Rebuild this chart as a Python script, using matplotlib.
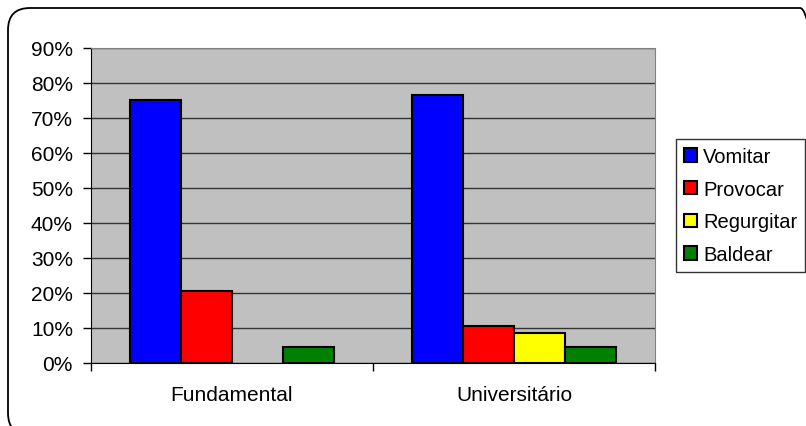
import numpy as np
import matplotlib.pyplot as plt
from matplotlib.patches import FancyBboxPatch, Patch
from matplotlib.transforms import IdentityTransform

plt.rcParams['font.family'] = ['Liberation Sans', 'DejaVu Sans']

# Data (percent)
categories = ["Fundamental", "Universitário"]
series_names = ["Vomitar", "Provocar", "Regurgitar", "Baldear"]
vomitar = [75.0, 76.5]
provocar = [20.5, 10.5]
regurgitar = [0.0, 8.5]
baldear = [4.5, 4.5]
series_values = [vomitar, provocar, regurgitar, baldear]
colors = ["#0000ff", "#ff0000", "#ffff00", "#008000"]
y_ticks = [0, 10, 20, 30, 40, 50, 60, 70, 80, 90]

fig = plt.figure(figsize=(8.06, 4.27), dpi=100)
ax = fig.add_axes([91 / 806, 63 / 427, 564 / 806, 315.5 / 427])

x = np.arange(len(categories))
bar_w = 0.181
offsets = (np.arange(len(series_names)) - 1.5) * bar_w
for vals, name, col, off in zip(series_values, series_names, colors, offsets):
    # zero values are not drawn at all in the original
    h = np.where(np.array(vals) > 0, vals, np.nan)
    ax.bar(x + off, h, width=bar_w, color=col, edgecolor="black",
           linewidth=1.5, label=name, zorder=3)

ax.set_facecolor("#c0c0c0")
ax.set_xlim(-0.5, 1.5)
ax.set_ylim(0, 90)
ax.set_yticks(y_ticks)
ax.set_yticklabels([f"{v}%" for v in y_ticks])
ax.yaxis.grid(True, color="#333333", linewidth=1.0, zorder=1)
ax.set_axisbelow(True)

ax.set_xticks(x)
ax.set_xticklabels(categories)
ax.set_xticks([-0.5, 0.5, 1.5], minor=True)
ax.tick_params(axis="x", which="major", length=0, pad=16, labelsize=15)
ax.tick_params(axis="x", which="minor", length=6, width=1, direction="out")
ax.tick_params(axis="y", length=6, width=1, direction="out", pad=7, labelsize=15)

ax.spines["left"].set_color("black")
ax.spines["bottom"].set_color("black")
ax.spines["top"].set_color("#808080")
ax.spines["right"].set_color("#808080")

handles = [Patch(facecolor=c, edgecolor="black", linewidth=1.5) for c in colors]
leg = fig.legend(handles, series_names, loc="upper left",
                 bbox_to_anchor=(676 / 806, (427 - 140) / 427),
                 frameon=True, fancybox=False, fontsize=14.5,
                 handlelength=0.65, handleheight=0.65, handletextpad=0.3,
                 labelspacing=0.68, borderpad=0.4, borderaxespad=0)
leg.get_frame().set_edgecolor("black")
leg.get_frame().set_linewidth(1.0)

# rounded outer chart border (in pixels, partly cut off right and bottom)
border = FancyBboxPatch((8, -9), 814, 427 - 9 + 9,
                        boxstyle="round,pad=0,rounding_size=22",
                        transform=IdentityTransform(), facecolor="none",
                        edgecolor="black", linewidth=1.3)
fig.patches.append(border)

fig.savefig("out.png", dpi=100)
